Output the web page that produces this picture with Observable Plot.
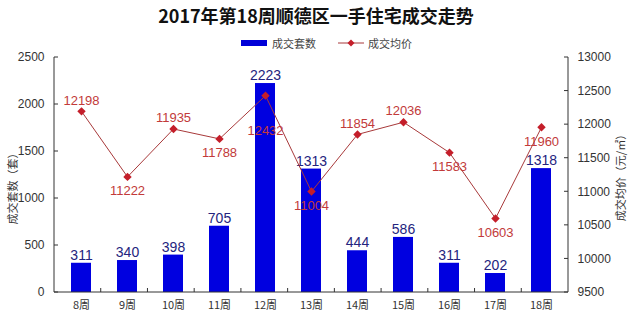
<!DOCTYPE html>
<html><head><meta charset="utf-8">
<script src="https://cdn.jsdelivr.net/npm/d3@7"></script>
<script src="https://cdn.jsdelivr.net/npm/@observablehq/plot@0.6"></script>
<style>
body{margin:0;background:#fff;font-family:"Liberation Sans","Noto Sans CJK SC",sans-serif;}
#head{position:relative;width:632px;height:50px;}
#title{position:absolute;left:0;width:632px;top:4px;text-align:center;font-weight:bold;font-size:18px;line-height:22px;font-family:"Noto Sans CJK SC",sans-serif;color:#111;}
.lg{position:absolute;font-size:11px;line-height:14px;top:36px;color:#444;font-family:"Noto Sans CJK SC",sans-serif;}
#chart{position:relative;width:632px;}
.ytitle{position:absolute;font-size:11px;color:#333;font-family:"Noto Sans CJK SC",sans-serif;white-space:nowrap;transform:translate(-50%,-50%) rotate(-90deg);line-height:12px;}
</style>
</head><body>
<div id="head">
  <div id="title">2017年第18周顺德区一手住宅成交走势</div>
  <div style="position:absolute;left:241px;top:40px;width:26px;height:6px;background:#0000d8;"></div>
  <div class="lg" style="left:272px;">成交套数</div>
  <svg style="position:absolute;left:338px;top:38px;" width="26" height="10"><line x1="0" y1="5" x2="26" y2="5" stroke="#a8393a" stroke-width="1"/><path d="M13,1.5L16.5,5L13,8.5L9.5,5Z" fill="#c41e2a"/></svg>
  <div class="lg" style="left:368px;">成交均价</div>
</div>
<div id="chart"></div>
<script>
const weeks = ["8周","9周","10周","11周","12周","13周","14周","15周","16周","17周","18周"];
const units = [311,340,398,705,2223,1313,444,586,311,202,1318];
const prices = [12198,11222,11935,11788,12432,11004,11854,12036,11583,10603,11960];
const priceLabelSide = ["above","below","above","below","far","below","above","above","below","below","below"];
const unitTicks = [0,500,1000,1500,2000,2500];
const priceTicks = [9500,10000,10500,11000,11500,12000,12500,13000];
const unitDomain = [0,2500];
const priceDomain = [9500,13000];

const toY = p => (p - priceDomain[0]) / (priceDomain[1] - priceDomain[0]) * (unitDomain[1] - unitDomain[0]) + unitDomain[0];
const fromY = v => (v - unitDomain[0]) / (unitDomain[1] - unitDomain[0]) * (priceDomain[1] - priceDomain[0]) + priceDomain[0];

const rows = weeks.map((w, i) => ({week: w, units: units[i], price: prices[i], py: toY(prices[i]), side: priceLabelSide[i]}));

const W = 632, H = 267, ML = 54, MR = 64, MT = 7, MB = 25;
const axisColor = "#333";

function frameMarks(index, scales, values, dims) {
  const g = d3.create("svg:g").attr("stroke", axisColor).attr("fill", "none");
  const x0 = dims.marginLeft, x1 = dims.width - dims.marginRight;
  const y0 = dims.marginTop, y1 = dims.height - dims.marginBottom;
  g.append("line").attr("x1", x0).attr("x2", x0).attr("y1", y0).attr("y2", y1);
  g.append("line").attr("x1", x1).attr("x2", x1).attr("y1", y0).attr("y2", y1);
  g.append("line").attr("x1", x0).attr("x2", x1).attr("y1", y1).attr("y2", y1);
  for (const t of unitTicks) {
    const y = scales.y(t);
    g.append("line").attr("x1", x0).attr("x2", x0 + 4).attr("y1", y).attr("y2", y);
  }
  for (const p of priceTicks) {
    const y = scales.y(toY(p));
    g.append("line").attr("x1", x1 - 4).attr("x2", x1).attr("y1", y).attr("y2", y);
  }
  const step = (x1 - x0) / weeks.length;
  for (let k = 1; k < weeks.length; k++) {
    const x = x0 + k * step;
    g.append("line").attr("x1", x).attr("x2", x).attr("y1", y1).attr("y2", y1 - 4);
  }
  return g.node();
}

const plot = Plot.plot({
  width: W, height: H,
  marginLeft: ML, marginRight: MR, marginTop: MT, marginBottom: MB,
  style: {fontFamily: '"Liberation Sans","Noto Sans CJK SC",sans-serif', fontSize: "12px", color: "#333", background: "#fff"},
  x: {domain: weeks, paddingInner: 0.57, paddingOuter: 0.285, label: null},
  y: {domain: unitDomain, label: null},
  marks: [
    Plot.barY(rows, {x: "week", y: "units", fill: "#0000e0"}),
    Plot.text(rows, {x: "week", y: "units", text: d => String(d.units), dy: -8, fill: "#24247e", fontSize: 14}),
    Plot.line(rows, {x: "week", y: "py", stroke: "#a8393a", strokeWidth: 1}),
    Plot.dot(rows, {x: "week", y: "py", symbol: "diamond2", r: 3.8, fill: "#c41e2a", stroke: "none"}),
    Plot.text(rows.filter(d => d.side === "above"), {x: "week", y: "py", text: d => String(d.price), dy: -11, fill: "#c23a3a", fontSize: 13}),
    Plot.text(rows.filter(d => d.side === "below"), {x: "week", y: "py", text: d => String(d.price), dy: 14, fill: "#c23a3a", fontSize: 13}),
    Plot.text(rows.filter(d => d.side === "far"), {x: "week", y: "py", text: d => String(d.price), dy: 35, fill: "#c23a3a", fontSize: 13}),
    Plot.axisY({anchor: "left", ticks: unitTicks, tickFormat: d => String(d), tickSize: 0, tickPadding: 10, label: null, fill: "#333"}),
    Plot.axisY({anchor: "right", ticks: priceTicks.map(toY), tickFormat: v => String(Math.round(fromY(v))), tickSize: 0, tickPadding: 9, label: null, fill: "#333"}),
    Plot.axisX({tickSize: 0, tickPadding: 9, label: null, fontFamily: '"Noto Sans CJK SC",sans-serif', fontSize: 11, fill: "#333"}),
    frameMarks
  ]
});
const chart = document.getElementById("chart");
chart.appendChild(plot);
const lt = document.createElement("div");
lt.className = "ytitle"; lt.textContent = "成交套数（套）";
lt.style.left = "12px"; lt.style.top = (186 - 50) + "px";
chart.appendChild(lt);
const rt = document.createElement("div");
rt.className = "ytitle"; rt.textContent = "成交均价（元/㎡）";
rt.style.left = "620px"; rt.style.top = (175 - 50) + "px";
chart.appendChild(rt);
</script>
</body></html>
